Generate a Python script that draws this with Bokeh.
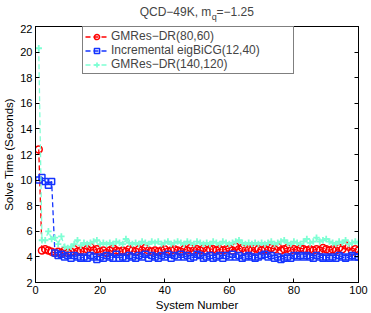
from bokeh.plotting import figure
from bokeh.layouts import column
from bokeh.models import Range1d, LinearAxis, Label, Legend, LegendItem, FixedTicker
from bokeh.embed import file_html
from bokeh.resources import INLINE

system_number = list(range(1, 101))

gmres_80_60 = [12.4, 4.5, 4.6, 4.5, 4.4, 4.3, 4.4, 4.3, 4.5, 4.3,
               4.4, 4.6, 4.4, 4.5, 4.4, 4.6, 4.8, 4.5, 4.6, 4.4,
               4.5, 4.3, 4.5, 4.7, 4.5, 4.4, 4.5, 4.4, 4.6, 4.5,
               4.4, 4.6, 4.5, 4.7, 4.5, 4.4, 4.5, 4.4, 4.5, 4.6,
               4.4, 4.5, 4.6, 4.5, 4.4, 4.6, 4.5, 4.7, 4.5, 4.6,
               4.5, 4.7, 4.5, 4.6, 4.6, 4.5, 4.6, 4.5, 4.6, 4.7,
               4.5, 4.8, 4.6, 4.7, 4.5, 4.6, 4.5, 4.7, 4.6, 4.5,
               4.6, 4.5, 4.7, 4.6, 4.8, 4.5, 4.6, 4.7, 4.5, 4.6,
               4.5, 4.7, 4.6, 4.5, 4.6, 4.5, 4.6, 4.5, 4.7, 4.6,
               4.5, 4.6, 4.5, 4.7, 4.6, 4.9, 4.8, 4.4, 4.6, 4.5]

eigbicg_12_40 = [10.0, 10.2, 9.9, 9.6, 9.9, 4.3, 4.1, 4.2, 4.0, 4.1,
                 3.9, 4.1, 4.0, 3.9, 4.0, 3.9, 4.1, 4.0, 3.8, 4.0,
                 3.9, 4.1, 4.0, 3.9, 4.2, 3.9, 4.0, 3.9, 4.1, 4.0,
                 3.9, 4.1, 4.0, 4.2, 3.9, 4.1, 4.0, 3.9, 4.1, 4.0,
                 4.2, 3.9, 4.1, 4.0, 4.2, 4.0, 4.1, 3.9, 4.0, 4.2,
                 4.1, 3.9, 4.0, 4.1, 3.9, 4.0, 4.1, 3.9, 4.1, 4.0,
                 4.2, 4.0, 4.1, 3.9, 4.0, 4.1, 4.0, 3.9, 4.0, 4.1,
                 4.2, 4.0, 4.1, 3.9, 4.0, 3.8, 3.9, 4.0, 3.9, 4.1,
                 4.0, 4.1, 4.0, 4.1, 4.0, 3.9, 4.1, 4.0, 3.9, 4.0,
                 3.9, 4.0, 3.9, 4.1, 4.0, 3.9, 4.0, 4.1, 4.0, 4.0]

gmres_140_120 = [20.3, 5.3, 5.3, 6.0, 5.4, 5.5, 5.0, 5.6, 4.8, 4.7,
                 4.8, 5.0, 5.3, 4.9, 5.1, 5.0, 5.1, 5.2, 5.3, 5.0,
                 5.1, 5.0, 5.1, 5.0, 5.2, 5.1, 5.0, 5.4, 5.1, 5.0,
                 5.1, 5.0, 5.2, 5.1, 5.0, 5.2, 5.1, 5.2, 5.0, 5.1,
                 5.2, 5.0, 5.1, 5.2, 5.1, 5.0, 5.2, 5.1, 5.0, 5.2,
                 5.1, 5.0, 5.1, 5.0, 5.2, 5.1, 5.0, 5.2, 5.1, 5.0,
                 5.1, 5.2, 5.3, 5.1, 5.0, 5.1, 5.0, 5.1, 5.0, 5.1,
                 5.0, 5.1, 5.2, 5.0, 5.1, 5.2, 5.3, 5.1, 5.0, 5.2,
                 5.1, 5.0, 5.2, 5.4, 5.1, 5.2, 5.5, 5.2, 5.3, 5.4,
                 5.2, 5.1, 5.0, 5.2, 5.1, 5.3, 5.0, 5.1, 5.2, 5.1]

series_names = ["GMRes\u2212DR(80,60)", "Incremental eigBiCG(12,40)", "GMRes\u2212DR(140,120)"]
title_main = "QCD\u221249K, m"
title_sub = "q"
title_tail = "=\u22121.25"
x_label = "System Number"
y_label = "Solve Time (Seconds)"
x_ticks = [0, 20, 40, 60, 80, 100]
y_ticks = [2, 4, 6, 8, 10, 12, 14, 16, 18, 20, 22]

FONT = "Liberation Sans"
W = 371
TH = 24

# ---- title strip (a frame-only figure holding the title with its subscript)
tf = figure(width=W, height=TH, output_backend="svg", toolbar_location=None,
            x_range=Range1d(0, W), y_range=Range1d(0, TH), min_border=0,
            min_border_left=0, min_border_right=0, min_border_top=0, min_border_bottom=0,
            x_axis_location=None, y_axis_location=None)
tf.grid.visible = False
tf.outline_line_color = None
tf.add_layout(Label(x=202, y=13, text=title_main, text_font=FONT, text_font_size="12px",
                    text_align="right", text_baseline="middle"))
tf.add_layout(Label(x=202.5, y=8, text=title_sub, text_font=FONT, text_font_size="9px",
                    text_align="left", text_baseline="middle"))
tf.add_layout(Label(x=208, y=13, text=title_tail, text_font=FONT, text_font_size="12px",
                    text_align="left", text_baseline="middle"))

# ---- main plot
p = figure(width=W, height=313 - TH, output_backend="svg", toolbar_location=None,
           x_range=Range1d(0, 100), y_range=Range1d(2, 22),
           min_border_left=33, min_border_right=13, min_border_top=2, min_border_bottom=30,
           x_axis_location=None, y_axis_location=None)
p.grid.visible = False
p.outline_line_color = "black"
p.outline_line_width = 1

def make_axis(ticks, show_labels):
    ax = LinearAxis(ticker=FixedTicker(ticks=ticks))
    ax.major_tick_in = 4
    ax.major_tick_out = 0
    ax.minor_tick_line_color = None
    ax.axis_line_color = "black"
    ax.major_tick_line_color = "black"
    ax.major_label_text_font = FONT
    ax.major_label_text_font_size = "11px"
    ax.major_label_text_color = "black"
    ax.major_label_standoff = 3
    ax.axis_label_text_font = FONT
    ax.axis_label_text_font_size = "11.5px"
    ax.axis_label_text_font_style = "normal"
    ax.axis_label_text_color = "black"
    ax.axis_label_standoff = 2
    if not show_labels:
        ax.major_label_text_font_size = "0px"
        ax.major_label_text_color = None
        ax.major_label_standoff = 0
    return ax

xb = make_axis(x_ticks, True)
xb.axis_label = x_label
xt = make_axis(x_ticks, False)
yl = make_axis(y_ticks, True)
yl.axis_label = y_label
yr = make_axis(y_ticks, False)
p.add_layout(xb, "below")
p.add_layout(xt, "above")
p.add_layout(yl, "left")
p.add_layout(yr, "right")

red = "#ff0000"
blue = "#1434ff"
cyan = "#7fffd4"

r1 = p.line(system_number, gmres_80_60, line_color=red, line_dash="5 3", line_width=1.3)
m1 = p.scatter(system_number, gmres_80_60, marker="circle", size=7, line_color=red,
               fill_color=None, line_width=1.5)
r2 = p.line(system_number, eigbicg_12_40, line_color=blue, line_dash="5 3", line_width=1.3)
m2 = p.scatter(system_number, eigbicg_12_40, marker="square", size=6, line_color=blue,
               fill_color=None, line_width=1.5)
r3 = p.line(system_number, gmres_140_120, line_color=cyan, line_dash="5 3", line_width=1.3)
m3 = p.scatter(system_number, gmres_140_120, marker="cross", size=6.5, line_color=cyan,
               line_width=1.8)

legend = Legend(items=[LegendItem(label=series_names[0], renderers=[r1, m1]),
                       LegendItem(label=series_names[1], renderers=[r2, m2]),
                       LegendItem(label=series_names[2], renderers=[r3, m3])],
                location=(47, 208))
legend.label_text_font = FONT
legend.label_text_font_size = "12px"
legend.label_height = 13
legend.label_width = 180
legend.glyph_height = 13
legend.glyph_width = 23
legend.spacing = 0
legend.padding = 2
legend.margin = 0
legend.label_standoff = 3
legend.border_line_color = "black"
legend.border_line_width = 1
legend.background_fill_alpha = 1
p.add_layout(legend, "center")

layout = column(tf, p, spacing=0)
open("out.html", "w").write(file_html(layout, INLINE))
